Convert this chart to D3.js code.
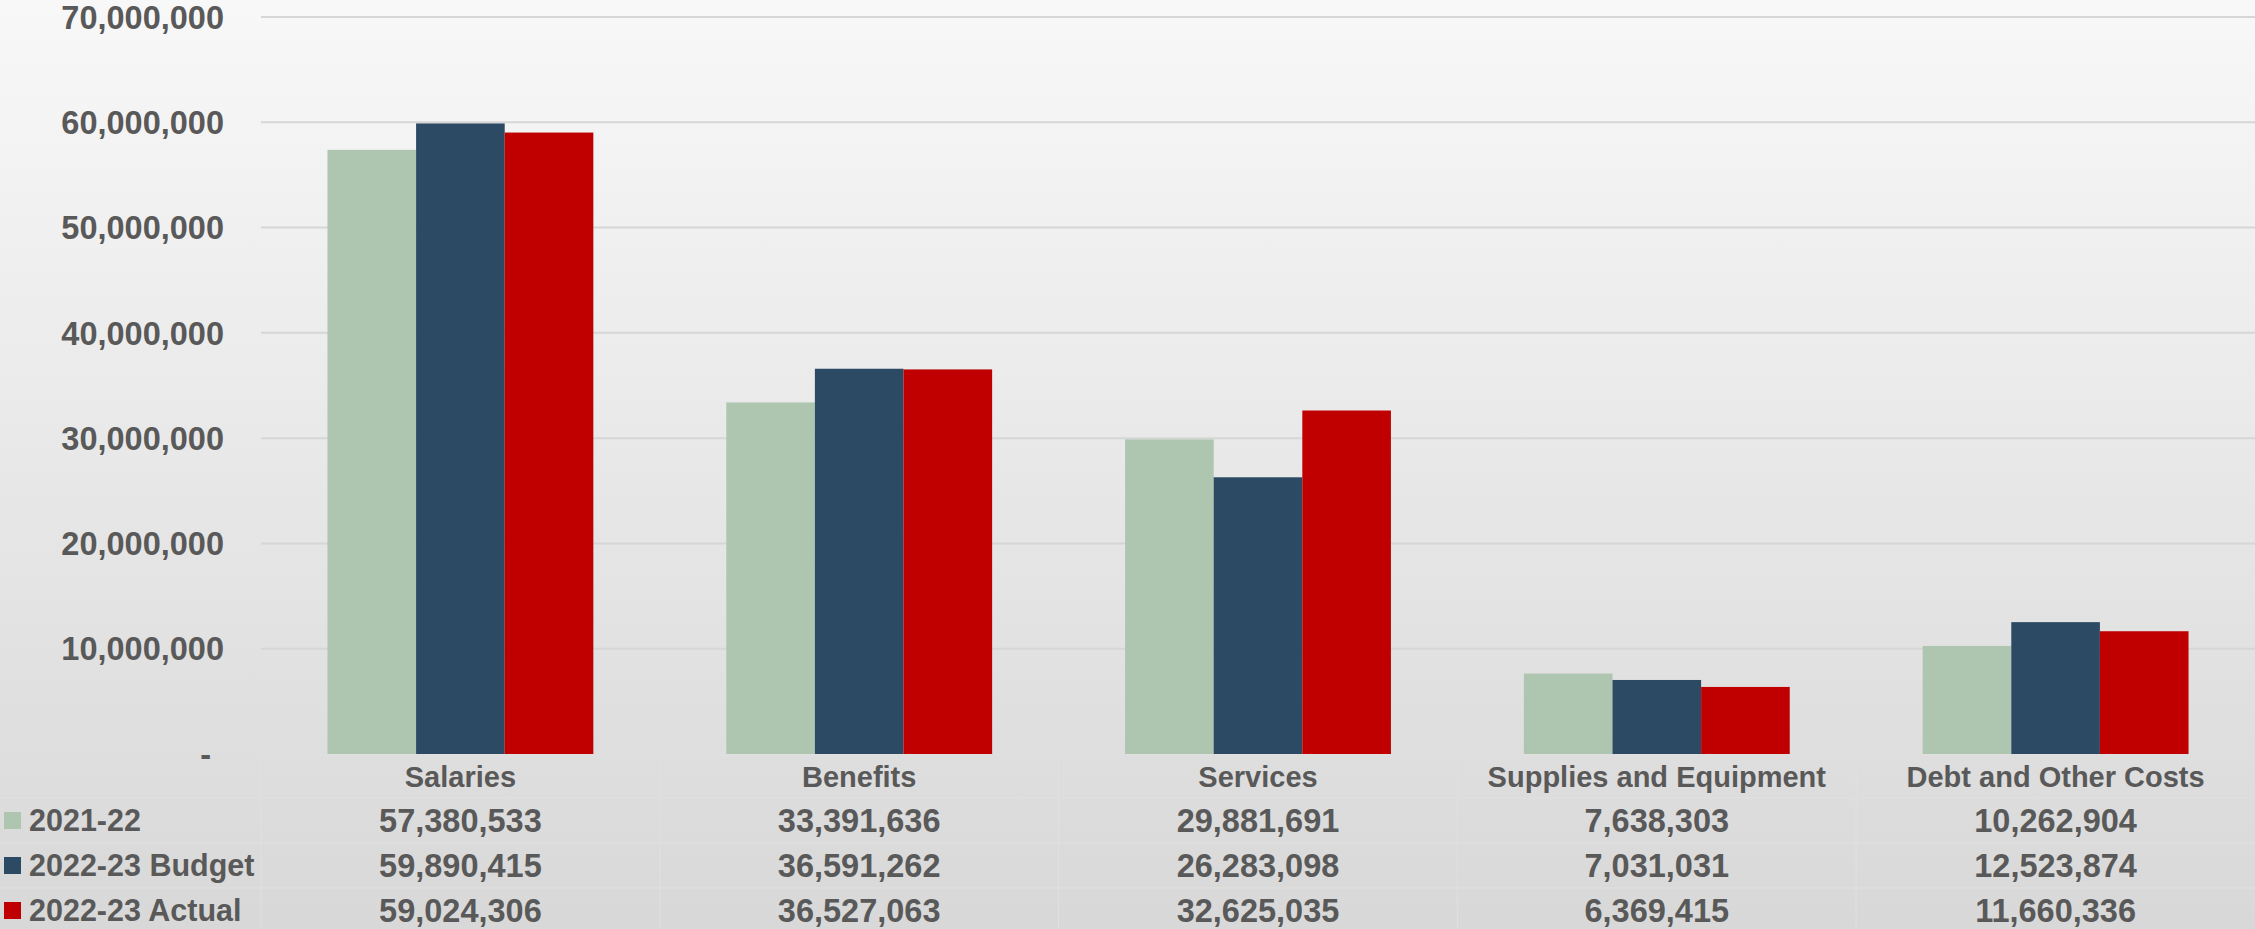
<!DOCTYPE html>
<html>
<head>
<meta charset="utf-8">
<script src="https://cdn.jsdelivr.net/npm/d3@7"></script>
<style>
  body { margin: 0; overflow: hidden; }
  svg { display: block; }
  text { font-family: "Liberation Sans", Arial, sans-serif; font-weight: bold; fill: #595959; }
</style>
</head>
<body>
<div id="chart"></div>
<script>
// categories and series
const categories = ["Salaries", "Benefits", "Services", "Supplies and Equipment", "Debt and Other Costs"];
const seriesNames = ["2021-22", "2022-23 Budget", "2022-23 Actual"];
const seriesColors = ["#aec6b0", "#2c4a63", "#c00000"];

const actual2122 = [57380533, 33391636, 29881691, 7638303, 10262904];
const budget2223 = [59890415, 36591262, 26283098, 7031031, 12523874];
const actual2223 = [59024306, 36527063, 32625035, 6369415, 11660336];

const yTicks = [0, 10000000, 20000000, 30000000, 40000000, 50000000, 60000000, 70000000];

const allSeries = [actual2122, budget2223, actual2223];

const width = 2255, height = 929;

const svg = d3.select("#chart")
    .append("svg")
    .attr("width", width)
    .attr("height", height);

// background gradient
const grad = svg.append("defs").append("linearGradient")
    .attr("id", "bg")
    .attr("x1", 0).attr("y1", 0).attr("x2", 0).attr("y2", 1);
grad.append("stop").attr("offset", "0%").attr("stop-color", "#f8f8f8");
grad.append("stop").attr("offset", "100%").attr("stop-color", "#d8d8d8");

svg.append("rect")
    .attr("width", width)
    .attr("height", height)
    .attr("fill", "url(#bg)");

const plotLeft = 261, plotRight = 2255;

const y = d3.scaleLinear()
    .domain([0, 70000000])
    .range([754, 17]);

const x = d3.scaleBand()
    .domain(categories)
    .range([plotLeft, plotRight]);

const xInner = d3.scaleBand()
    .domain(seriesNames)
    .range([0, x.bandwidth()])
    .paddingOuter(0.75);

// gridlines
svg.append("g")
    .selectAll("line")
    .data(yTicks.filter(d => d > 0))
    .enter()
    .append("line")
    .attr("x1", plotLeft)
    .attr("x2", plotRight)
    .attr("y1", d => y(d))
    .attr("y2", d => y(d))
    .attr("stroke", "#d6d6d6")
    .attr("stroke-width", 2);

// y labels
const fmt = d3.format(",");
svg.append("g")
    .selectAll("text")
    .data(yTicks)
    .enter()
    .append("text")
    .attr("x", d => d === 0 ? 211 : 224)
    .attr("y", d => y(d))
    .attr("dy", "0.36em")
    .attr("text-anchor", "end")
    .attr("font-size", "32.5px")
    .text(d => d === 0 ? "-" : fmt(d));

// bars
const groups = svg.append("g")
    .selectAll("g")
    .data(categories)
    .enter()
    .append("g")
    .attr("transform", d => "translate(" + x(d) + ",0)");

groups.selectAll("rect")
    .data((c, ci) => seriesNames.map((s, si) => ({ s: s, si: si, value: allSeries[si][ci] })))
    .enter()
    .append("rect")
    .attr("x", d => xInner(d.s))
    .attr("y", d => y(d.value))
    .attr("width", xInner.bandwidth())
    .attr("height", d => y(0) - y(d.value))
    .attr("fill", d => seriesColors[d.si]);

// data table
const rowTop = 755, headerH = 43, rowH = 45;
const table = svg.append("g");
const lineColor = "#e0e0e0";

// horizontal borders
[rowTop, rowTop + headerH, rowTop + headerH + rowH, rowTop + headerH + 2 * rowH].forEach((yy, i) => {
    table.append("line")
        .attr("x1", i === 0 ? plotLeft : 0)
        .attr("x2", plotRight)
        .attr("y1", yy).attr("y2", yy)
        .attr("stroke", lineColor)
        .attr("stroke-width", 1);
});

// vertical borders
categories.forEach(c => {
    table.append("line")
        .attr("x1", x(c)).attr("x2", x(c))
        .attr("y1", rowTop).attr("y2", height)
        .attr("stroke", lineColor)
        .attr("stroke-width", 1);
});

// category headers
table.selectAll(".cat")
    .data(categories)
    .enter()
    .append("text")
    .attr("class", "cat")
    .attr("x", d => x(d) + x.bandwidth() / 2)
    .attr("y", rowTop + headerH / 2)
    .attr("dy", "0.36em")
    .attr("text-anchor", "middle")
    .attr("font-size", "29px")
    .text(d => d);

// legend + values per row
seriesNames.forEach((s, si) => {
    const cy = rowTop + headerH + rowH * si + rowH / 2;

    table.append("rect")
        .attr("x", 4)
        .attr("y", cy - 8.5)
        .attr("width", 17)
        .attr("height", 17)
        .attr("fill", seriesColors[si]);

    table.append("text")
        .attr("x", 29)
        .attr("y", cy)
        .attr("dy", "0.36em")
        .attr("font-size", "30.5px")
        .text(s);

    table.selectAll(".val" + si)
        .data(allSeries[si])
        .enter()
        .append("text")
        .attr("x", (d, i) => x(categories[i]) + x.bandwidth() / 2)
        .attr("y", cy)
        .attr("dy", "0.36em")
        .attr("text-anchor", "middle")
        .attr("font-size", "32.5px")
        .text(d => fmt(d));
});
</script>
</body>
</html>
